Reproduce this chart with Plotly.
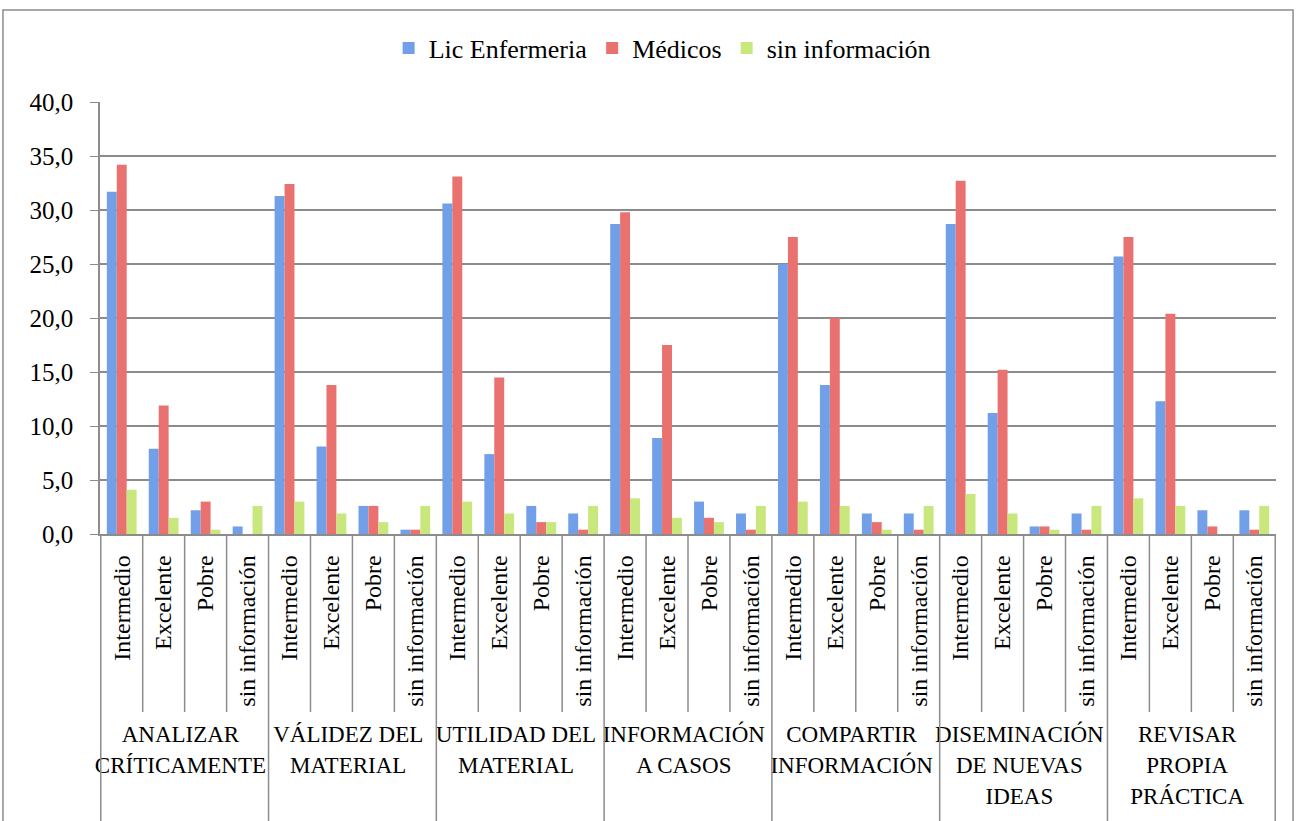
import plotly.graph_objects as go

groups = ["ANALIZAR<br>CRÍTICAMENTE", "VÁLIDEZ DEL<br>MATERIAL", "UTILIDAD DEL<br>MATERIAL",
          "INFORMACIÓN<br>A CASOS", "COMPARTIR<br>INFORMACIÓN", "DISEMINACIÓN<br>DE NUEVAS<br>IDEAS",
          "REVISAR<br>PROPIA<br>PRÁCTICA"]
levels = ["Intermedio", "Excelente", "Pobre", "sin información"]

lic_enfermeria = [31.7, 7.9, 2.2, 0.7,
                  31.3, 8.1, 2.6, 0.4,
                  30.6, 7.4, 2.6, 1.9,
                  28.7, 8.9, 3.0, 1.9,
                  25.0, 13.8, 1.9, 1.9,
                  28.7, 11.2, 0.7, 1.9,
                  25.7, 12.3, 2.2, 2.2]
medicos = [34.2, 11.9, 3.0, 0.0,
           32.4, 13.8, 2.6, 0.4,
           33.1, 14.5, 1.1, 0.4,
           29.8, 17.5, 1.5, 0.4,
           27.5, 20.0, 1.1, 0.4,
           32.7, 15.2, 0.7, 0.4,
           27.5, 20.4, 0.7, 0.4]
sin_informacion = [4.1, 1.5, 0.4, 2.6,
                   3.0, 1.9, 1.1, 2.6,
                   3.0, 1.9, 1.1, 2.6,
                   3.3, 1.5, 1.1, 2.6,
                   3.0, 2.6, 0.4, 2.6,
                   3.7, 1.9, 0.4, 2.6,
                   3.3, 2.6, 0.0, 2.6]

series = [("Lic Enfermeria", lic_enfermeria, "#71A0E8"),
          ("Médicos", medicos, "#E97270"),
          ("sin información", sin_informacion, "#C8E87E")]

outer_fmt = '<span style="font-size:23px">{}</span>'
outer = [outer_fmt.format(g) for g in groups for _ in levels]
inner = [l for _ in groups for l in levels]

FONT = "Liberation Serif, Times New Roman, serif"
fig = go.Figure()
for name, vals, col in series:
    fig.add_trace(go.Bar(x=[outer, inner], y=vals, name=name,
                         marker=dict(color=col, line=dict(width=0))))

grid = "#8C8C8C"
shapes = []
n = len(outer)
for i in range(n + 1):
    xpos = i - 0.5
    full = (i % len(levels) == 0)
    shapes.append(dict(type="line", xref="x", yref="paper", x0=xpos, x1=xpos,
                       y0=0, y1=-0.70 if full else -0.412,
                       line=dict(color=grid, width=1.5)))
# outer chart frame
shapes.append(dict(type="rect", xref="paper", yref="paper", x0=-0.0825, x1=1.0145,
                   y0=-0.70, y1=1.213, line=dict(color=grid, width=1.5), layer="below"))

fig.update_layout(
    width=1296, height=821,
    margin=dict(l=100, r=20, t=102, b=287),
    paper_bgcolor="white", plot_bgcolor="white",
    font=dict(family=FONT, size=24, color="black"),
    separators=", ",
    barmode="group", bargap=0.29, bargroupgap=0,
    showlegend=True,
    legend=dict(orientation="h", x=0.478, xanchor="center", y=1.125, yanchor="middle",
                font=dict(family=FONT, size=26), itemwidth=30, traceorder="normal"),
    shapes=shapes,
)
fig.update_yaxes(range=[0, 40], tickvals=[0, 5, 10, 15, 20, 25, 30, 35, 40], tickformat=".1f",
                 showgrid=True, gridcolor=grid, gridwidth=1.5, showline=True, linecolor=grid,
                 linewidth=1.5, ticks="outside", ticklen=8, tickcolor=grid, zeroline=False,
                 ticklabelstandoff=12, tickfont=dict(family=FONT, size=25))
fig.update_xaxes(type="multicategory", tickangle=-90, showdividers=False, showline=True,
                 linecolor=grid, linewidth=1.5, ticks="", ticklabelstandoff=10,
                 tickfont=dict(family=FONT, size=24))

fig.write_html("out.html", config={"displayModeBar": False},
               post_script="document.body.style.margin='0';")
